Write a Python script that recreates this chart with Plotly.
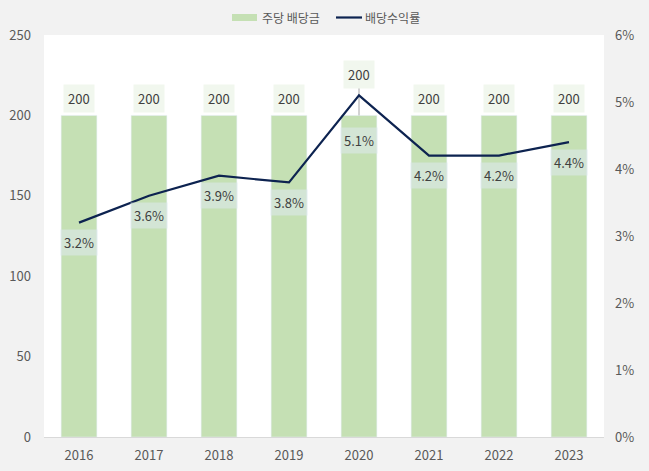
import plotly.graph_objects as go

years = ["2016", "2017", "2018", "2019", "2020", "2021", "2022", "2023"]
dps = [200, 200, 200, 200, 200, 200, 200, 200]
yield_pct = [3.2, 3.6, 3.9, 3.8, 5.1, 4.2, 4.2, 4.4]

FONT = "Noto Sans CJK KR"
BAR_C = "#c5e0b4"
LINE_C = "#0d2350"
fig = go.Figure()
fig.add_trace(go.Bar(x=years, y=dps, name="주당 배당금", marker_color=BAR_C,
                     width=0.51, yaxis="y", showlegend=False))
fig.add_trace(go.Scatter(x=years, y=yield_pct, name="배당수익률", mode="lines",
                         line=dict(color=LINE_C, width=2.2), yaxis="y2", showlegend=False))

ann = []
for i, (yr, v, p) in enumerate(zip(years, dps, yield_pct)):
    special = (yr == "2020")
    ann.append(dict(x=i, y=v, xref="x", yref="y", text=str(v), showarrow=False,
                    yshift=41 if special else 17, bgcolor="#f1f7ee",
                    font=dict(size=13, color="#404040", family=FONT), borderpad=4))
    ann.append(dict(x=i, y=p, xref="x", yref="y2", text=f"{p:.1f}%", showarrow=False,
                    yshift=-45 if special else -20, bgcolor="rgba(220,232,235,0.6)",
                    font=dict(size=13, color="#404040", family=FONT), borderpad=3))

W, H = 649, 471
L, R, T, B = 44, 45, 35, 34
pw, ph = W - L - R, H - T - B
def px(x):
    return (x - L) / pw
def py(y):
    return (H - B - y) / ph

ann.append(dict(x=px(260), y=py(18), xref="paper", yref="paper", text="주당 배당금",
                showarrow=False, xanchor="left", yanchor="middle",
                font=dict(size=12, color="#595959", family=FONT)))
ann.append(dict(x=px(363), y=py(18), xref="paper", yref="paper", text="배당수익률",
                showarrow=False, xanchor="left", yanchor="middle",
                font=dict(size=12, color="#595959", family=FONT)))

i20 = years.index("2020")
shapes = [
    dict(type="rect", xref="paper", yref="paper", x0=px(232), x1=px(257),
         y0=py(21), y1=py(14), fillcolor=BAR_C, line=dict(width=0)),
    dict(type="line", xref="paper", yref="paper", x0=px(336), x1=px(362),
         y0=py(17.5), y1=py(17.5), line=dict(color=LINE_C, width=2.2)),
    dict(type="line", xref="x", yref="y", x0=i20, x1=i20,
         y0=200 + 29 * 250 / 402, y1=yield_pct[i20] / 6 * 250 - 33 * 250 / 402,
         line=dict(color="#a6a6a6", width=1), layer="below"),
]

fig.update_layout(
    width=W, height=H,
    margin=dict(l=L, r=R, t=T, b=B, autoexpand=False),
    paper_bgcolor="#f2f2f2", plot_bgcolor="#ffffff",
    font=dict(family=FONT, size=13, color="#595959"),
    showlegend=False,
    xaxis=dict(type="category", showgrid=False, showline=True, linecolor="#d9d9d9",
               ticks="", ticklabelstandoff=6, tickfont=dict(size=13, color="#595959")),
    yaxis=dict(range=[0, 250], dtick=50, showgrid=False, zeroline=False, ticks="",
               ticklabelstandoff=12, tickfont=dict(size=13, color="#595959")),
    yaxis2=dict(range=[0, 6], dtick=1, overlaying="y", side="right", showgrid=False,
                zeroline=False, ticksuffix="%", ticks="", ticklabelstandoff=10,
                tickfont=dict(size=13, color="#595959")),
    annotations=ann,
    shapes=shapes,
    bargap=0.49,
)

fig.write_html("out.html")
